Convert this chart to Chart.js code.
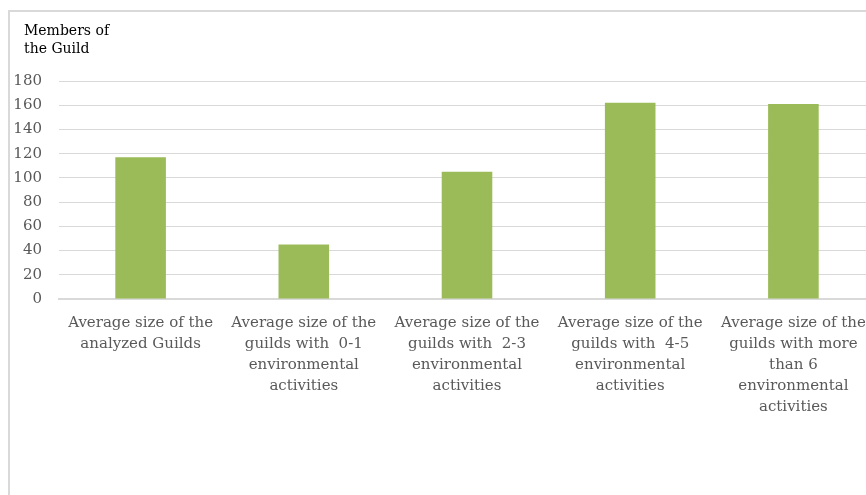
<!DOCTYPE html>
<html>
<head>
<meta charset="utf-8">
<script src="https://cdn.jsdelivr.net/npm/chart.js@4"></script>
<style>
    html, body { margin: 0; padding: 0; background: white; overflow: hidden; width: 866px; height: 495px; }
    #frame { position: absolute; left: 8px; top: 10px; width: 900px; height: 520px; border: 2px solid #d9d9d9; box-sizing: border-box; }
    #chart { position: absolute; left: 0; top: 0; }
</style>
</head>
<body>
<div id="frame"></div>
<canvas id="chart" width="880" height="495"></canvas>
<script>
// Guild size by number of environmental activities
const categories = [
    ['Average size of the', 'analyzed Guilds'],
    ['Average size of the', 'guilds with  0-1', 'environmental', 'activities'],
    ['Average size of the', 'guilds with  2-3', 'environmental', 'activities'],
    ['Average size of the', 'guilds with  4-5', 'environmental', 'activities'],
    ['Average size of the', 'guilds with more', 'than 6', 'environmental', 'activities']
];
const members = [117, 45, 105, 162, 161];
const yTitle = ['Members of', 'the Guild'];
const yMax = 180;
const yStep = 20;

const gray = '#595959';
const fontFamily = '"DejaVu Serif", serif';

// draws the axis caption above the value labels
const captionPlugin = {
    id: 'caption',
    afterDraw(chart) {
        const ctx = chart.ctx;
        ctx.save();
        ctx.fillStyle = '#000';
        ctx.font = '14px ' + fontFamily;
        ctx.textBaseline = 'alphabetic';
        ctx.textAlign = 'left';
        yTitle.forEach((line, i) => ctx.fillText(line, 24, 35 + i * 18));
        ctx.restore();
    }
};

new Chart(document.getElementById('chart'), {
    type: 'bar',
    data: {
        labels: categories,
        datasets: [{
            data: members,
            backgroundColor: '#9bbb59',
            borderWidth: 0,
            categoryPercentage: 1,
            barPercentage: 0.31
        }]
    },
    options: {
        responsive: false,
        animation: false,
        layout: { padding: { left: 13, right: 5, top: 81, bottom: 71 } },
        plugins: {
            legend: { display: false },
            tooltip: { enabled: false }
        },
        scales: {
            x: {
                grid: { display: false },
                border: { color: '#d9d9d9', width: 2 },
                ticks: {
                    color: gray,
                    font: { family: fontFamily, size: 15, lineHeight: 1.4 },
                    padding: 6,
                    maxRotation: 0,
                    autoSkip: false
                }
            },
            y: {
                min: 0,
                max: yMax,
                afterFit: scale => { scale.width = 46; },
                grid: { color: '#d9d9d9', lineWidth: 1, drawTicks: false },
                border: { display: false },
                ticks: {
                    stepSize: yStep,
                    color: gray,
                    font: { family: fontFamily, size: 15 },
                    padding: 17
                }
            }
        }
    },
    plugins: [captionPlugin]
});
</script>
</body>
</html>
